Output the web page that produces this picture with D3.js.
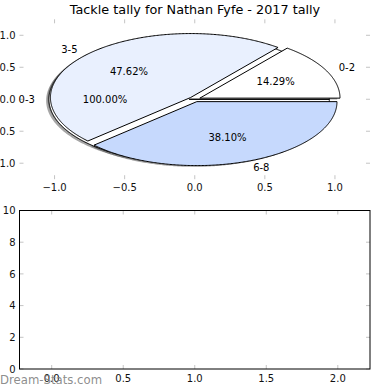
<!DOCTYPE html>
<html><head><meta charset="utf-8">
<script src="https://cdn.jsdelivr.net/npm/d3@7"></script>
<style>body{margin:0;background:#fff;} svg{display:block;font-family:"DejaVu Sans",sans-serif;}</style>
</head><body><svg id="c" width="390" height="390"></svg>
<script>
const title = "Tackle tally for Nathan Fyfe - 2017 tally";
const outerLabels = ["0-3"];
const outerValues = [1];
const categories = ["0-2", "3-5", "6-8"];
const values = [3, 10, 8];
const sliceColors = ["#ffffff", "#e9f0fe", "#c6d9fd"];
const pieTicks = [-1, -0.5, 0, 0.5, 1];
const lowerXTicks = [0, 0.5, 1, 1.5, 2];
const lowerYTicks = [0, 2, 4, 6, 8, 10];
const watermark = "Dream-Stats.com";
const explode = 0.04;

const svg = d3.select("#c");
const tickCol = "#c4c4c4";
const fmtTick = d => d3.format(".1f")(d).replace("-", "\u2212");

// ---------- top axes (pie) ----------
const L = 19.5, R = 370, T1 = 19.3, B1 = 179.2;
const x = d3.scaleLinear().domain([-1.25, 1.25]).range([L, R]);
const y = d3.scaleLinear().domain([-1.25, 1.25]).range([B1, T1]);

svg.append("text").attr("x", 195).attr("y", 14).attr("text-anchor", "middle")
  .attr("font-size", "12.8px").attr("fill", "#000").text(title);

const gT = svg.append("g");
pieTicks.forEach(t => {
  gT.append("line").attr("x1", x(t)).attr("x2", x(t)).attr("y1", B1).attr("y2", B1 - 4).attr("stroke", tickCol);
  gT.append("line").attr("x1", x(t)).attr("x2", x(t)).attr("y1", T1).attr("y2", T1 + 4).attr("stroke", tickCol);
  gT.append("line").attr("y1", y(t)).attr("y2", y(t)).attr("x1", L).attr("x2", L + 4).attr("stroke", tickCol);
  gT.append("line").attr("y1", y(t)).attr("y2", y(t)).attr("x1", R).attr("x2", R - 4).attr("stroke", tickCol);
  gT.append("text").attr("x", x(t)).attr("y", 190.6).attr("text-anchor", "middle").attr("font-size", "10px").attr("fill", "#111").text(fmtTick(t));
  gT.append("text").attr("x", L - 4).attr("y", y(t)).attr("dy", "0.36em").attr("text-anchor", "end").attr("font-size", "10px").attr("fill", "#111").text(fmtTick(t));
});

const pie = d3.pie().sort(null).startAngle(0).endAngle(2 * Math.PI);
const line = d3.line().x(d => x(d[0])).y(d => y(d[1]));

function wedgePts(a0, a1, cx, cy) {
  const n = Math.max(8, Math.ceil((a1 - a0) / 0.01));
  const pts = [[cx, cy]];
  for (let i = 0; i <= n; i++) {
    const a = a0 + (a1 - a0) * i / n;
    pts.push([cx + Math.cos(a), cy + Math.sin(a)]);
  }
  return pts;
}

function build(vals, labels, colors) {
  const total = d3.sum(vals);
  return pie(vals).map((d, i) => {
    const mid = (d.startAngle + d.endAngle) / 2;
    const cx = explode * Math.cos(mid), cy = explode * Math.sin(mid);
    return {
      pts: wedgePts(d.startAngle, d.endAngle, cx, cy),
      mid, cx, cy, color: colors[i % colors.length], label: labels[i],
      pct: d3.format(".2f")(vals[i] / total * 100) + "%"
    };
  });
}
const outer = build(outerValues, outerLabels, sliceColors);
const inner = build(values, categories, sliceColors);
const all = outer.concat(inner);

const gP = svg.append("g");
// shadows (below all wedges)
all.forEach(w => {
  gP.append("path").attr("d", line(w.pts.map(p => [p[0] - 0.02, p[1] - 0.02])) + "Z")
    .attr("fill", "rgb(77,77,77)").attr("fill-opacity", 0.5).attr("stroke", "none");
});
all.forEach(w => {
  gP.append("path").attr("d", line(w.pts) + "Z")
    .attr("fill", w.color).attr("stroke", "#000").attr("stroke-width", 1).attr("stroke-linejoin", "miter");
});
all.forEach(w => {
  const lx = w.cx + 1.1 * Math.cos(w.mid), ly = w.cy + 1.1 * Math.sin(w.mid);
  gP.append("text").attr("x", x(lx)).attr("y", y(ly)).attr("dy", "0.36em")
    .attr("text-anchor", lx > 0 ? "start" : "end").attr("font-size", "10px").attr("fill", "#000").text(w.label);
  const px = w.cx + 0.6 * Math.cos(w.mid), py = w.cy + 0.6 * Math.sin(w.mid);
  gP.append("text").attr("x", x(px)).attr("y", y(py)).attr("dy", "0.36em")
    .attr("text-anchor", "middle").attr("font-size", "10px").attr("fill", "#000").text(w.pct);
});

// ---------- bottom axes ----------
const T2 = 210.5, B2 = 369;
const x2 = d3.scaleLinear().domain([-0.225, 2.225]).range([L, R]);
const y2 = d3.scaleLinear().domain([0, 10]).range([B2, T2]);
const gB = svg.append("g");
lowerXTicks.forEach(t => {
  gB.append("line").attr("x1", x2(t)).attr("x2", x2(t)).attr("y1", B2).attr("y2", B2 - 4).attr("stroke", tickCol);
  gB.append("line").attr("x1", x2(t)).attr("x2", x2(t)).attr("y1", T2).attr("y2", T2 + 4).attr("stroke", tickCol);
  gB.append("text").attr("x", x2(t)).attr("y", 382.4).attr("text-anchor", "middle").attr("font-size", "10px").attr("fill", "#111").text(d3.format(".1f")(t));
});
lowerYTicks.forEach(t => {
  gB.append("line").attr("y1", y2(t)).attr("y2", y2(t)).attr("x1", L).attr("x2", L + 4).attr("stroke", tickCol);
  gB.append("line").attr("y1", y2(t)).attr("y2", y2(t)).attr("x1", R).attr("x2", R - 4).attr("stroke", tickCol);
  gB.append("text").attr("x", L - 4).attr("y", y2(t)).attr("dy", "0.36em").attr("text-anchor", "end").attr("font-size", "10px").attr("fill", "#111").text(t);
});
gB.append("rect").attr("x", L).attr("y", T2).attr("width", R - L).attr("height", B2 - T2)
  .attr("fill", "none").attr("stroke", "#000").attr("stroke-width", 1);

svg.append("text").attr("x", 0).attr("y", 384).attr("font-size", "11.7px")
  .attr("fill", "#808080").attr("fill-opacity", 0.9).text(watermark);
</script></body></html>
